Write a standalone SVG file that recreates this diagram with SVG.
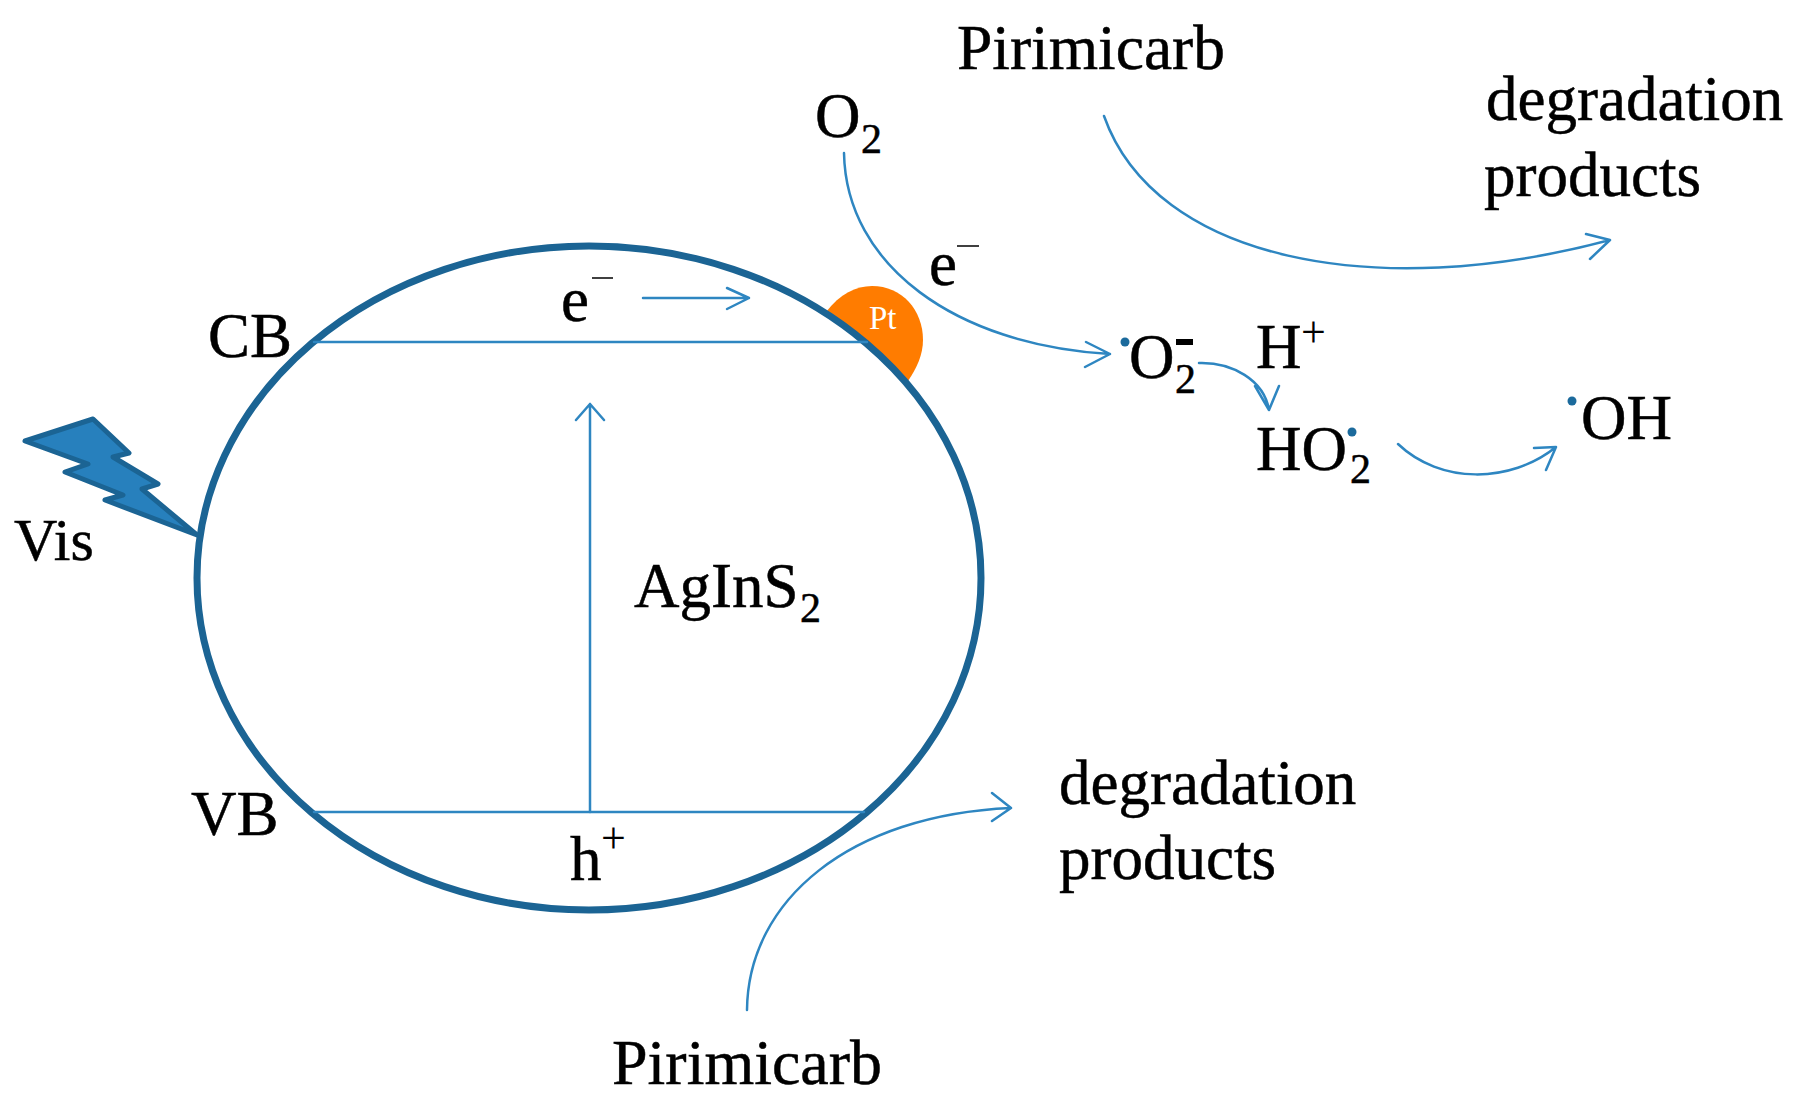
<svg xmlns="http://www.w3.org/2000/svg" width="1807" height="1118" viewBox="0 0 1807 1118">
<style>
text{font-family:"Liberation Serif","Times New Roman",serif;fill:#000;font-size:63px;stroke:#000;stroke-width:.5}
.sub{font-size:42px}
.sup{font-size:44px;stroke-width:0}
.c{fill:none;stroke:#2e86c1;stroke-width:2.5;stroke-linecap:round;stroke-linejoin:round}
.dot{fill:#1b6a9c}
</style>
<rect width="1807" height="1118" fill="#fff"/>
<g id="pt"><path d="M826 312C840 294 856 286 872 286C902 286 923 310 923 340C923 354 917 368 908 381Z" fill="#ff7c00"/><text x="869" y="329" style="font-size:33px;fill:#fff;stroke:none">Pt</text></g>
<g id="particle"><ellipse cx="589" cy="578" rx="392" ry="332" fill="none" stroke="#1b6494" stroke-width="7"/></g>
<g id="bolt"><path d="M25 441L93 419L129 453L113 457L158 484L142 489L197 535L105 500L123 495L65 472L88 464Z" fill="#2780bd" stroke="#1b6494" stroke-width="5" stroke-linejoin="round"/></g>
<g id="connectors">
<path class="c" d="M314 342H867M314 812H864"/>
<path class="c" d="M590 812V404M576 420L590 404L604 420"/>
<path class="c" d="M643 298H749M727 288L749 298L727 309"/>
<path class="c" d="M844 153C846 265 955 345 1110 354M1086 342L1110 354L1085 367"/>
<path class="c" d="M1104 116C1155 260 1375 303 1610 240M1586 234L1610 240L1590 259"/>
<path class="c" d="M1199 363C1232 362 1264 380 1269 410M1255 386L1269 410L1279 386"/>
<path class="c" d="M1398 444C1440 484 1510 484 1556 447M1534 448L1556 447L1546 470"/>
<path class="c" d="M747 1010C748 900 850 815 1011 808M992 793L1011 808L992 821"/>
</g>
<g id="labels">
<text x="957" y="69" textLength="268" lengthAdjust="spacingAndGlyphs">Pirimicarb</text>
<text x="1486" y="120">degradation</text>
<text x="1484" y="196">products</text>
<text x="815" y="137">O<tspan class="sub" x="861" y="153">2</tspan></text>
<text x="929" y="285">e</text>
<path d="M957 246H979" stroke="#000" stroke-width="1.5"/>
<circle class="dot" cx="1125" cy="342" r="4.5"/>
<text x="1129" y="378">O<tspan class="sub" x="1175" y="393">2</tspan></text>
<rect x="1176" y="339" width="17" height="6" fill="#000"/>
<text x="1256" y="368">H<tspan class="sup" x="1301" y="347">+</tspan></text>
<text x="1256" y="470">HO<tspan class="sub" x="1350" y="483">2</tspan></text>
<circle class="dot" cx="1352" cy="432" r="4.5"/>
<circle class="dot" cx="1572" cy="401" r="4.5"/>
<text x="1581" y="439">OH</text>
<text x="561" y="321">e</text>
<path d="M592 278H613" stroke="#000" stroke-width="1.5"/>
<text x="570" y="880">h<tspan class="sup" x="601" y="853">+</tspan></text>
<text x="634" y="607">AgInS<tspan class="sub" x="800" y="622">2</tspan></text>
<text x="208" y="357">CB</text>
<text x="191" y="835">VB</text>
<text x="14" y="560" style="font-size:60px">Vis</text>
<text x="1059" y="804">degradation</text>
<text x="1059" y="879">products</text>
<text x="612" y="1084" textLength="270" lengthAdjust="spacingAndGlyphs">Pirimicarb</text>
</g>
</svg>
